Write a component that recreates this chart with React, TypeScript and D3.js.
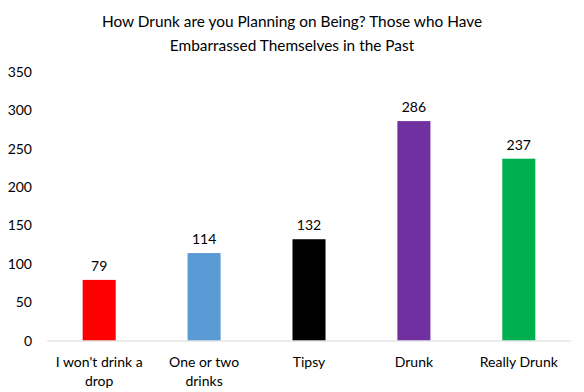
import * as d3 from "d3";

const W = 584;
const H = 392;
const MARGIN = { top: 72, right: 13, bottom: 51.5, left: 47 };

const categories = [
  ["I won't drink a", "drop"],
  ["One or two", "drinks"],
  ["Tipsy"],
  ["Drunk"],
  ["Really Drunk"],
];
const values = [79, 114, 132, 286, 237];
const colors = ["#ff0000", "#5b9bd5", "#000000", "#7030a0", "#00b050"];
const yTicks = [0, 50, 100, 150, 200, 250, 300, 350];
const titleLines = [
  "How Drunk are you Planning on Being? Those who Have",
  "Embarrassed Themselves in the Past",
];

const FONT = "Lato, 'Liberation Sans', Arial, sans-serif";

export default function App() {
  const innerW = W - MARGIN.left - MARGIN.right;
  const innerH = H - MARGIN.top - MARGIN.bottom;

  const x = d3
    .scaleBand<number>()
    .domain(d3.range(values.length))
    .range([0, innerW])
    .paddingInner(0.685)
    .paddingOuter(0.34);
  const y = d3.scaleLinear().domain([0, 350]).range([innerH, 0]);

  return (
    <svg
      width={W}
      height={H}
      style={{ position: "absolute", left: 0, top: 0, background: "#fff" }}
      fontFamily={FONT}
    >
      {/* title */}
      {titleLines.map((t, i) => (
        <text
          key={t}
          x={292}
          y={27 + i * 23.5}
          fontSize={15.4}
          textAnchor="middle"
          fill="#000"
        >
          {t}
        </text>
      ))}
      <g transform={`translate(${MARGIN.left},${MARGIN.top})`}>
        {yTicks.map((t) => (
          <text
            key={t}
            x={-15}
            y={y(t) + 5}
            fontSize={14}
            textAnchor="end"
            fill="#000"
          >
            {t}
          </text>
        ))}
        {values.map((v, i) => (
          <g key={i}>
            <rect
              x={x(i)}
              y={y(v)}
              width={x.bandwidth()}
              height={innerH - y(v)}
              fill={colors[i]}
            />
            <text
              x={(x(i) ?? 0) + x.bandwidth() / 2}
              y={y(v) - 9}
              fontSize={14}
              textAnchor="middle"
              fill="#000"
            >
              {v}
            </text>
          </g>
        ))}
        <line x1={0} x2={innerW} y1={innerH + 0.5} y2={innerH + 0.5} stroke="#d9d9d9" />
        {categories.map((lines, i) => (
          <text
            key={i}
            x={(x(i) ?? 0) + x.bandwidth() / 2}
            fontSize={14}
            textAnchor="middle"
            fill="#000"
          >
            {lines.map((l, j) => (
              <tspan key={j} x={(x(i) ?? 0) + x.bandwidth() / 2} y={innerH + 26 + j * 19}>
                {l}
              </tspan>
            ))}
          </text>
        ))}
      </g>
    </svg>
  );
}
